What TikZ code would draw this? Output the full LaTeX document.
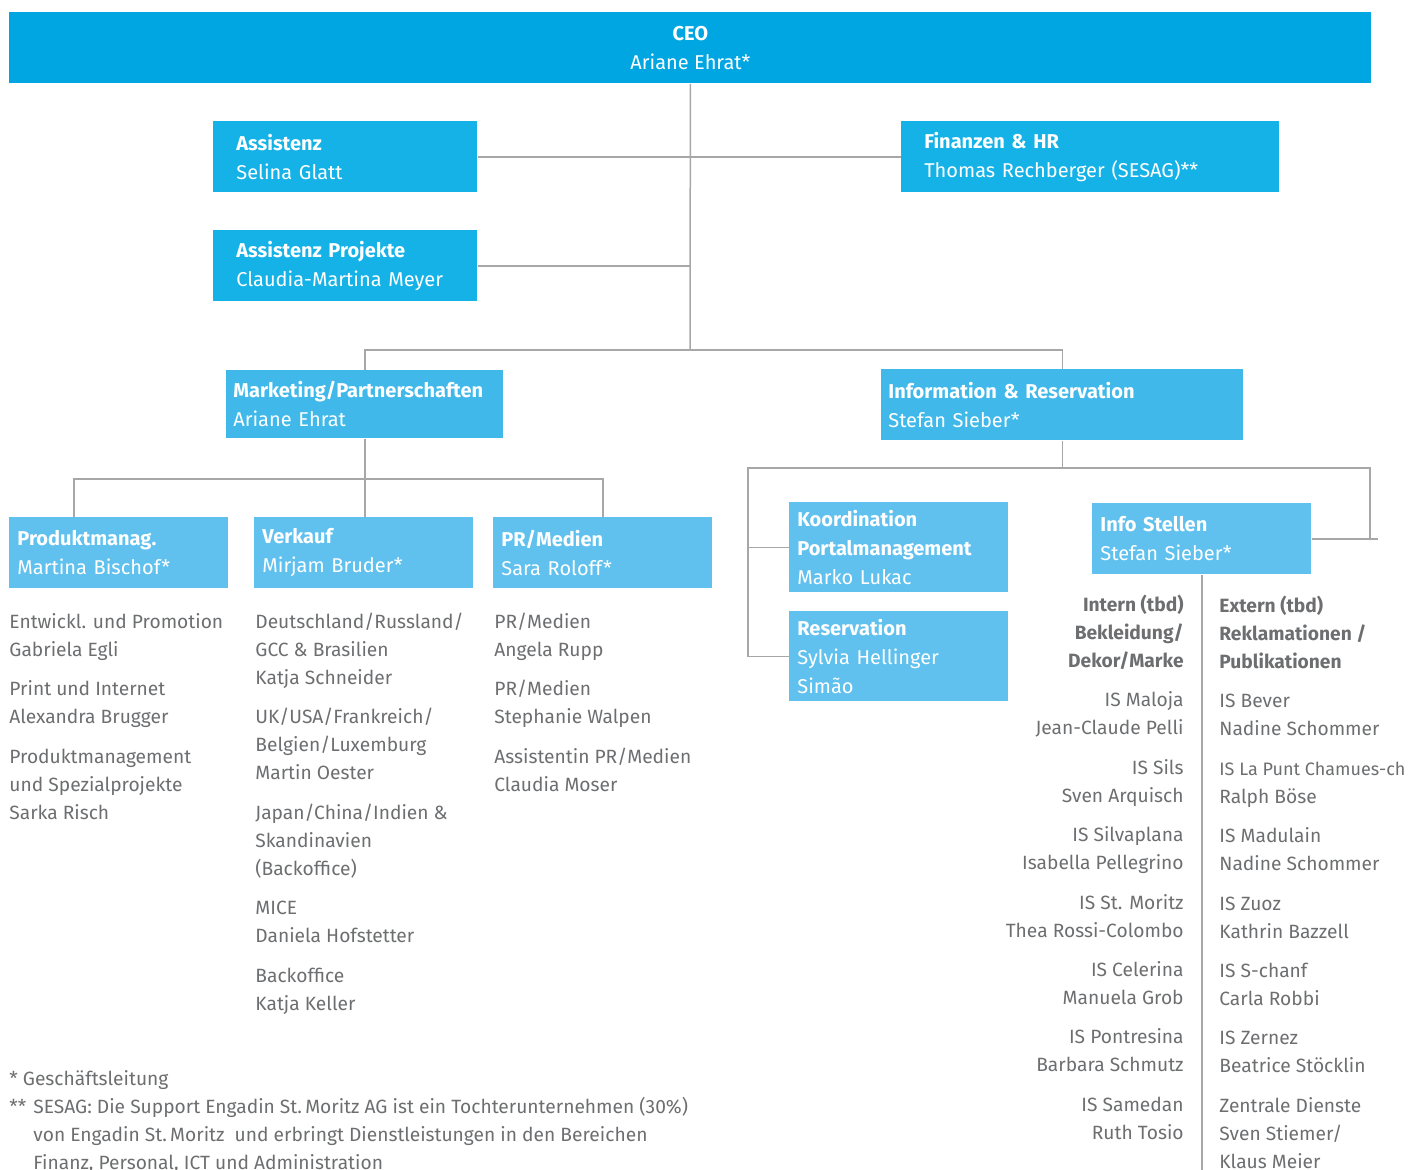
\documentclass[tikz,border=0pt]{standalone}
\usepackage{fontspec}
\setmainfont{Fira Sans}
\usepackage{tikz}
\definecolor{ceoblue}{HTML}{00A6E2}
\definecolor{staffblue}{HTML}{15B2E7}
\definecolor{deptblue}{HTML}{40B9EA}
\definecolor{teamblue}{HTML}{60C1EE}
\definecolor{txtgray}{HTML}{6D6E70}
\definecolor{linegray}{HTML}{A7A7A7}

\begin{document}
\begin{tikzpicture}[
  x=0.5pt, y=-0.5pt,
  every node/.style={font=\fontsize{10}{14.5}\selectfont},
  box/.style={
    anchor=north west, align=left, text=white,
    inner ysep=0pt, minimum height=35.5pt
  },
  ceo/.style={
    box, align=center, fill=ceoblue,
    inner xsep=0pt, minimum width=681pt
  },
  staff/.style={box, fill=staffblue, inner xsep=11.5pt, text width=109pt},
  dept/.style={box, fill=deptblue, inner xsep=3.5pt},
  team/.style={box, fill=teamblue, inner xsep=4pt, text width=101.5pt},
  list/.style={
    anchor=north west, align=left, text=txtgray, inner sep=0pt,
    font=\fontsize{9.6}{14}\selectfont
  },
  link/.style={draw=linegray, line width=0.75pt}
]
  \useasboundingbox (0,0) rectangle (1409,1169);

  % top level
  \node[ceo] (ceo) at (9,12) {\textbf{CEO}\\Ariane Ehrat*};
  \node[staff] (assist) at (213,121) {\textbf{Assistenz}\\Selina Glatt};
  \node[staff, text width=166pt] (fin) at (901,121)
    {\textbf{Finanzen \& HR}\\Thomas Rechberger (SESAG)**};
  \node[staff] (projekt) at (213,230)
    {\textbf{Assistenz Projekte}\\Claudia-Martina Meyer};

  % departments
  \node[dept, text width=131.5pt, minimum height=34pt] (mkt) at (226,370)
    {\textbf{Marketing/Partnerschaften}\\Ariane Ehrat};
  \node[dept, text width=174pt] (info) at (881,369)
    {\textbf{Information \& Reservation}\\Stefan Sieber*};

  % teams
  \node[team] (prod) at (9,517) {\textbf{Produktmanag.}\\Martina Bischof*};
  \node[team] (verkauf) at (254,517) {\textbf{Verkauf}\\Mirjam Bruder*};
  \node[team] (pr) at (493,517) {\textbf{PR/Medien}\\Sara Roloff*};
  \node[team, minimum height=45pt] (koord) at (789,502)
    {\textbf{Koordination}\\\textbf{Portalmanagement}\\Marko Lukac};
  \node[team, minimum height=45pt] (res) at (789,611)
    {\textbf{Reservation}\\Sylvia Hellinger\\Simão};
  \node[team] (stellen) at (1092,503) {\textbf{Info Stellen}\\Stefan Sieber*};

  % staff lists
  \node[list] (prodlist) at (9,608.4)
    {\strut Entwickl. und Promotion\\Gabriela Egli\\[5.7pt]
     Print und Internet\\Alexandra Brugger\\[5.7pt]
     Produktmanagement\\und Spezialprojekte\\Sarka Risch};
  \node[list] (verkauflist) at (255,608.4)
    {\strut Deutschland/Russland/\\GCC \& Brasilien\\Katja Schneider\\[5.7pt]
     UK/USA/Frankreich/\\Belgien/Luxemburg\\Martin Oester\\[5.7pt]
     Japan/China/Indien \&\\Skandinavien\\(Backoffice)\\[5.7pt]
     MICE\\Daniela Hofstetter\\[5.7pt]
     Backoffice\\Katja Keller};
  \node[list] (prlist) at (494,608.4)
    {\strut PR/Medien\\Angela Rupp\\[5.7pt]
     PR/Medien\\Stephanie Walpen\\[5.7pt]
     Assistentin PR/Medien\\Claudia Moser};
  \node[list, anchor=north east, align=right] (intern) at (1184,591.4)
    {\strut\textbf{Intern (tbd)}\\\textbf{Bekleidung/}\\\textbf{Dekor/Marke}\\[5.7pt]
     IS Maloja\\Jean-Claude Pelli\\[5.7pt]
     IS Sils\\Sven Arquisch\\[5.7pt]
     IS Silvaplana\\Isabella Pellegrino\\[5.7pt]
     IS St. Moritz\\Thea Rossi-Colombo\\[5.7pt]
     IS Celerina\\Manuela Grob\\[5.7pt]
     IS Pontresina\\Barbara Schmutz\\[5.7pt]
     IS Samedan\\Ruth Tosio};
  \node[list] (extern) at (1219,592.4)
    {\strut\textbf{Extern (tbd)}\\\textbf{Reklamationen /}\\\textbf{Publikationen}\\[5.7pt]
     IS Bever\\Nadine Schommer\\[5.7pt]
     {\fontsize{9}{14}\selectfont IS La Punt Chamues-ch}\\Ralph Böse\\[5.7pt]
     IS Madulain\\Nadine Schommer\\[5.7pt]
     IS Zuoz\\Kathrin Bazzell\\[5.7pt]
     IS S-chanf\\Carla Robbi\\[5.7pt]
     IS Zernez\\Beatrice Stöcklin\\[5.7pt]
     Zentrale Dienste\\Sven Stiemer/\\Klaus Meier};

  % footnotes
  \node[list] (note1) at (9,1065.4) {\strut* Geschäftsleitung};
  \node[list] (note2) at (9,1093.4)
    {\strut\makebox[12pt][l]{**}SESAG: Die Support Engadin St.\,Moritz AG ist ein Tochterunternehmen (30\%)\\
     \hspace*{12pt}von Engadin St.\,Moritz\ \ und erbringt Dienstleistungen in den Bereichen\\
     \hspace*{12pt}Finanz, Personal, ICT und Administration};

  % connectors
  \coordinate (hub) at (690,350);
  \draw[link] (ceo.south) -- (hub);
  \draw[link] (assist.east) -- (assist.east -| hub);
  \draw[link] (fin.west) -- (fin.west -| hub);
  \draw[link] (projekt.east) -- (projekt.east -| hub);
  \draw[link] (mkt.north) |- (hub) -| (info.north);

  \draw[link] (mkt.south) -- ++(0,40) coordinate (mktbus);
  \draw[link] (prod.north west) ++(65,0) |- (mktbus) -| (pr.north);
  \draw[link] (mktbus) -- (mktbus |- verkauf.north);

  \draw[link] (info.south) -- ++(0,27) coordinate (infobus);
  \path (stellen.east) ++(58,0) coordinate (stub);
  \draw[link] (res.west) -- ++(-41,0) |- (infobus) -| (stub);
  \draw[link] (koord.west) -- ++(-41,0);
  \draw[link] (stellen.east) -- ++(66,0);
  \draw[link] (stellen.south) -- ++(0,595);
\end{tikzpicture}
\end{document}
